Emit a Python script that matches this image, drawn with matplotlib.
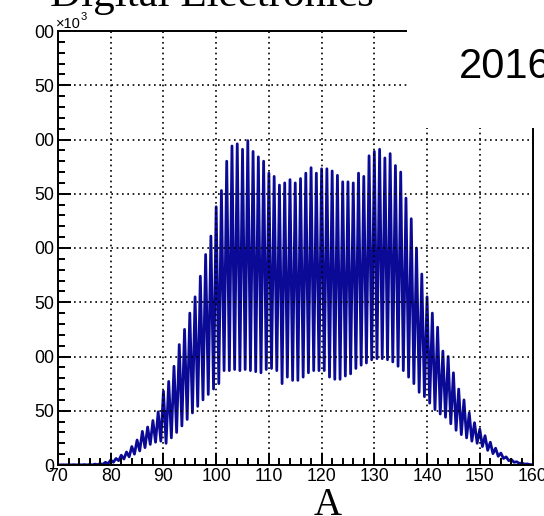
import numpy as np
import matplotlib
matplotlib.use("Agg")
import matplotlib.pyplot as plt
from matplotlib.patches import Rectangle
from matplotlib.ticker import MultipleLocator

plt.rcParams['font.family'] = ['Liberation Sans', 'DejaVu Sans']

# ---- data (counts x10^3) ----
peak_A = list(range(70, 161))          # integer A
peak_counts = [0.2, 0.2, 0.2, 0.3, 0.3, 0.4, 0.5, 0.8, 1.2, 2.5,
               4.6, 6, 9, 12, 17, 23, 31, 35, 41, 49,
               68, 77, 91, 111, 125, 140, 155, 174, 194, 211,
               238, 253, 280, 294, 296, 291, 299, 289, 284, 280,
               269, 266, 258, 260, 263, 260, 264, 269, 274, 269,
               273, 273, 271, 267, 261, 261, 260, 269, 266, 285,
               289, 291, 283, 287, 276, 270, 246, 227, 200, 176,
               155, 140, 127, 105, 100, 85, 70, 60, 48, 39,
               33, 27, 21, 15.5, 11, 7.5, 5, 3, 1.8, 1, 0.3]
trough_A = [a + 0.5 for a in range(70, 160)]  # half-integer A
trough_counts = [0.1, 0.1, 0.1, 0.1, 0.1, 0.1, 0.1, 0.3, 0.6, 1.2,
                 2.5, 4, 5.5, 7.5, 10, 13, 16, 19, 21, 22,
                 20, 25, 30, 36, 42, 48, 54, 60, 65, 70,
                 75, 87, 87, 88, 87, 88, 87, 86, 85, 88,
                 89, 87, 75, 81, 78, 78, 81, 85, 87, 87,
                 87, 81, 79, 79, 82, 84, 89, 92, 94, 97,
                 98, 98, 97, 95, 91, 87, 81, 75, 67, 63,
                 57, 51, 47, 44, 38, 32, 28, 25, 22, 20,
                 17, 13.5, 10.5, 8, 6, 4, 2.5, 1.5, 0.8, 0.4]

x_ticks = [70, 80, 90, 100, 110, 120, 130, 140, 150, 160]
x_tick_labels = ['70', '80', '90', '100', '110', '120', '130', '140', '150', '160']
y_ticks = [0, 50, 100, 150, 200, 250, 300, 350, 400]
y_tick_labels = ['0', '50', '00', '50', '00', '50', '00', '50', '00']

# interleave peaks and troughs into one polyline
xs, ys = [], []
for i in range(len(peak_A)):
    xs.append(peak_A[i]); ys.append(peak_counts[i])
    if i < len(trough_A):
        xs.append(trough_A[i]); ys.append(trough_counts[i])

W, H = 544, 516
fig = plt.figure(figsize=(W / 100, H / 100), dpi=100)
ax = fig.add_axes([58 / W, 51 / H, (532.5 - 58) / W, (465 - 31) / H])

ax.plot(xs, ys, color='#0a0a96', lw=2.0, zorder=2)

ax.set_xlim(70, 160)
ax.set_ylim(0, 400)
ax.set_xticks(x_ticks)
ax.set_xticklabels(x_tick_labels)
ax.set_yticks(y_ticks)
ax.set_yticklabels(y_tick_labels)
ax.xaxis.set_minor_locator(MultipleLocator(2))
ax.yaxis.set_minor_locator(MultipleLocator(10))
ax.tick_params(which='both', direction='in', top=False, right=False, width=1.4, color='black')
ax.tick_params(which='major', length=9, labelsize=12.8)
ax.tick_params(which='minor', length=4.7)
ax.tick_params(axis='x', pad=2.5)
ax.tick_params(axis='y', pad=3)
for s in ax.spines.values():
    s.set_linewidth(1.4)

ax.set_axisbelow(False)
ax.grid(True, which='major', color='black', linestyle=(0, (1, 2.2)), lw=1.2)

# exponent label
fig.text(56 / W, (H - 28) / H, '×10', fontsize=10.5, va='baseline', ha='left')
fig.text(81 / W, (H - 20) / H, '3', fontsize=8, va='baseline', ha='left')

# white box covering the top-right corner
fig.patches.append(Rectangle((407 / W, (H - 128) / H), 1, 1, transform=fig.transFigure,
                             facecolor='white', edgecolor='none', zorder=5))
fig.text(459 / W, (H - 78) / H, '2016', fontsize=30, va='baseline', ha='left', zorder=6)

fig.text(50 / W, (H - 6) / H, 'Digital Electronics', fontsize=31, va='baseline', ha='left',
         family=['Liberation Serif', 'DejaVu Serif'], zorder=6)
fig.text(328 / W, (H - 515) / H, 'A', fontsize=28, va='baseline', ha='center',
         family=['Liberation Serif', 'DejaVu Serif'], zorder=6)

fig.savefig('out.png', dpi=100)
